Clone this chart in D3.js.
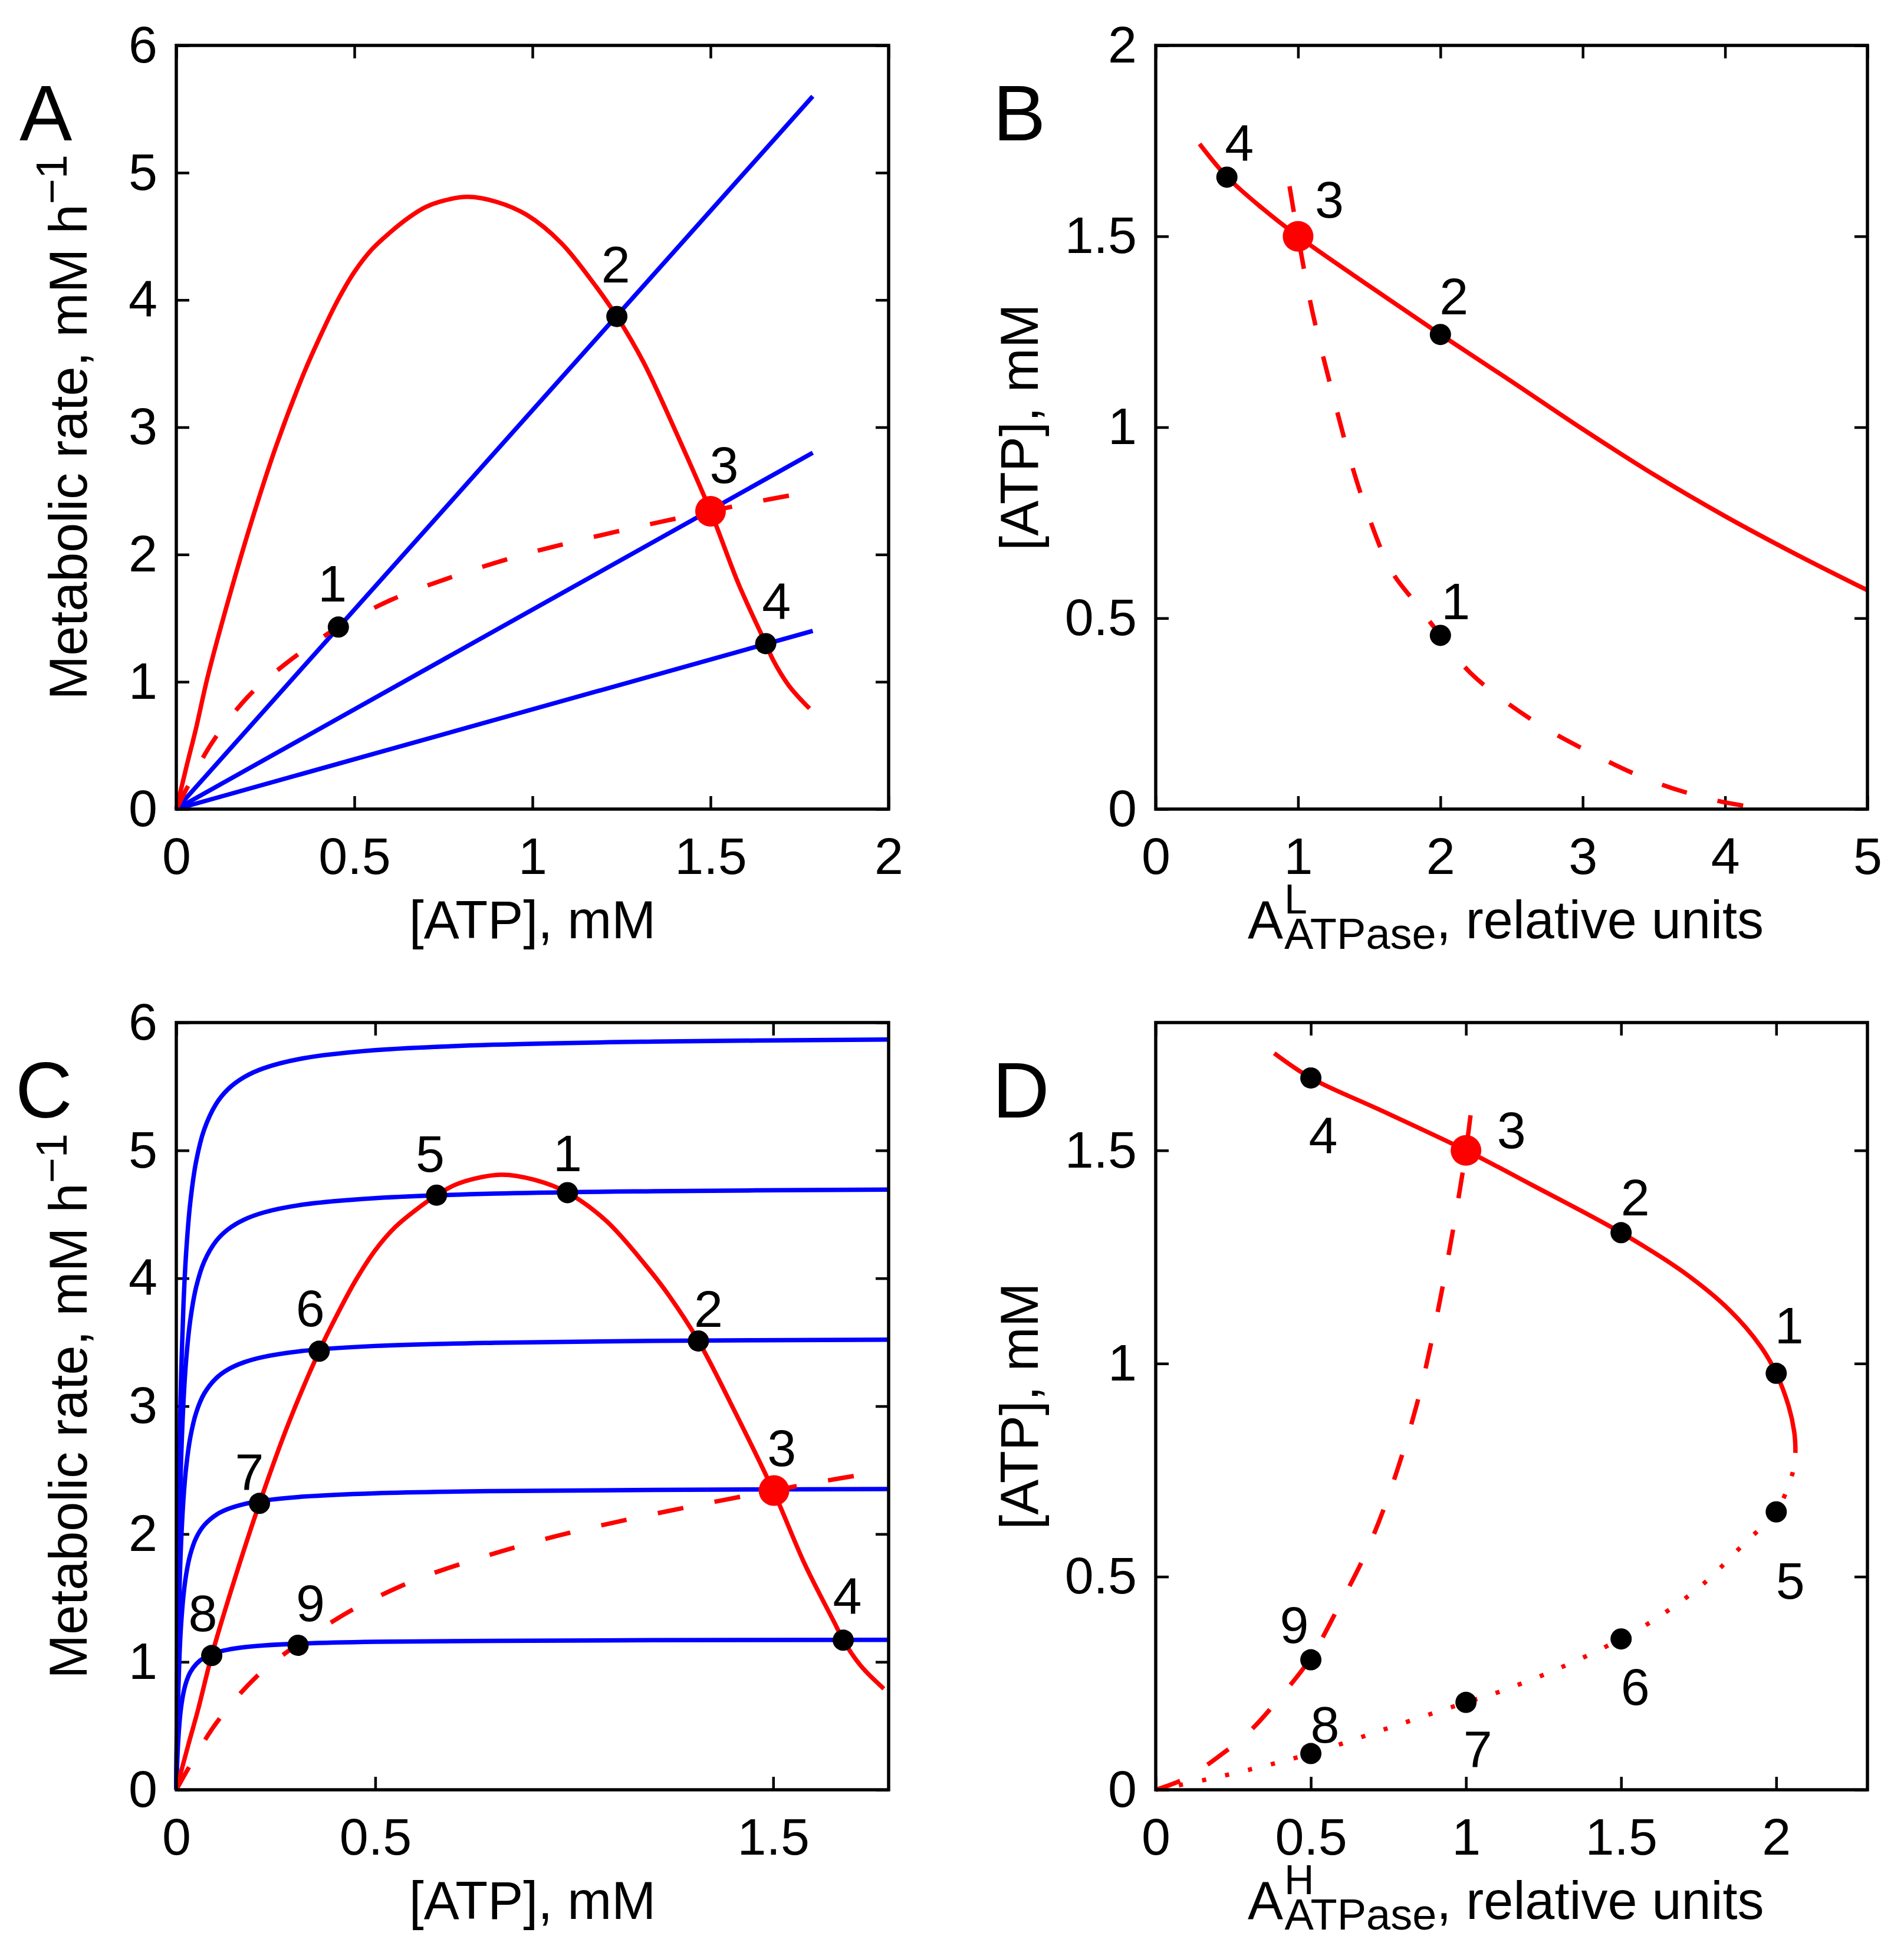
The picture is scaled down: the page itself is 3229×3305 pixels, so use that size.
<!DOCTYPE html>
<html>
<head>
<meta charset="utf-8">
<script src="https://cdn.jsdelivr.net/npm/d3@7"></script>
<style>
  body { margin: 0; background: #fff; }
  svg { display: block; }
</style>
</head>
<body>
<div id="chart"></div>
<script>
// ---- data ----

// A / C : ATP production rate (solid red) vs [ATP]
var prodAtp  = [0, 0.03, 0.055, 0.089, 0.15, 0.209, 0.28, 0.359, 0.4, 0.45, 0.5, 0.55, 0.6, 0.654, 0.7, 0.75, 0.818, 0.9, 0.983, 1.08, 1.18, 1.237, 1.312, 1.4, 1.5, 1.58, 1.655, 1.676, 1.72, 1.778];
var prodRate = [0, 0.35, 0.63, 1.05, 1.68, 2.24, 2.85, 3.43, 3.69, 3.98, 4.22, 4.40, 4.53, 4.65, 4.73, 4.78, 4.81, 4.77, 4.67, 4.45, 4.10, 3.87, 3.51, 2.98, 2.34, 1.76, 1.30, 1.17, 0.97, 0.79];

// A / C : dashed red curve
var dashAtp  = [0, 0.04, 0.1, 0.2, 0.306, 0.4, 0.456, 0.6, 0.78, 0.95, 1.1, 1.3, 1.5, 1.62, 1.735];
var dashRate = [0, 0.22, 0.52, 0.88, 1.14, 1.33, 1.43, 1.64, 1.83, 1.98, 2.09, 2.22, 2.34, 2.41, 2.47];

// A : blue consumption lines (end points, start at origin)
var lineEndAtp  = [1.787, 1.787, 1.787];
var lineEndRate = [5.6, 2.80, 1.40];

// A : points
var ptsAAtp   = [0.455, 1.237, 1.5, 1.655];
var ptsARate  = [1.43, 3.87, 2.34, 1.30];
var ptsALabel = ['1', '2', '3', '4'];
var ptsARed   = [false, false, true, false];

// C : blue saturating consumption curves
var cAtp   = [0, 0.004, 0.008, 0.012, 0.018, 0.025, 0.035, 0.05, 0.07, 0.1, 0.13, 0.17, 0.22, 0.32, 0.5, 0.8, 1.2, 1.79];
var cRate1 = [0, 1.686, 2.622, 3.218, 3.793, 4.214, 4.589, 4.917, 5.163, 5.364, 5.479, 5.572, 5.643, 5.721, 5.784, 5.827, 5.851, 5.867];
var cRate2 = [0, 1.349, 2.098, 2.575, 3.034, 3.371, 3.671, 3.933, 4.130, 4.291, 4.383, 4.458, 4.515, 4.577, 4.627, 4.662, 4.681, 4.694];
var cRate3 = [0, 1.011, 1.573, 1.931, 2.276, 2.529, 2.753, 2.950, 3.098, 3.218, 3.287, 3.343, 3.386, 3.433, 3.471, 3.496, 3.511, 3.520];
var cRate4 = [0, 0.676, 1.051, 1.290, 1.520, 1.689, 1.839, 1.971, 2.069, 2.150, 2.196, 2.234, 2.262, 2.293, 2.319, 2.336, 2.345, 2.352];
var cRate5 = [0, 0.337, 0.524, 0.644, 0.759, 0.843, 0.918, 0.983, 1.033, 1.073, 1.096, 1.115, 1.129, 1.144, 1.157, 1.165, 1.170, 1.173];

// C : points
var ptsCAtp   = [0.983, 1.312, 1.502, 1.676, 0.654, 0.359, 0.209, 0.089, 0.306];
var ptsCRate  = [4.67, 3.51, 2.34, 1.17, 4.65, 3.43, 2.24, 1.05, 1.13];
var ptsCLabel = ['1', '2', '3', '4', '5', '6', '7', '8', '9'];
var ptsCRed   = [false, false, true, false, false, false, false, false, false];

// B : ATP vs A^L_ATPase
var bSolidAct = [0.308, 0.5, 0.75, 1.0, 1.5, 2.0, 2.5, 3.0, 3.5, 4.0, 4.5, 5.0];
var bSolidAtp = [1.742, 1.656, 1.573, 1.5, 1.37, 1.243, 1.12, 0.995, 0.876, 0.767, 0.667, 0.573];
var bDashAct  = [0.94, 1.0, 1.098, 1.226, 1.355, 1.483, 1.654, 1.825, 2.0, 2.21, 2.637, 3.064, 3.49, 3.92, 4.28];
var bDashAtp  = [1.631, 1.5, 1.307, 1.112, 0.93, 0.78, 0.625, 0.54, 0.455, 0.357, 0.235, 0.146, 0.073, 0.024, 0];
var ptsBAct   = [0.5, 1, 2, 2];
var ptsBAtp   = [1.655, 1.5, 1.243, 0.455];
var ptsBLabel = ['4', '3', '2', '1'];
var ptsBRed   = [false, true, false, false];

// D : ATP vs A^H_ATPase
var dSolidAct = [0.382, 0.5, 0.72, 1.0, 1.21, 1.5, 1.7, 1.85, 1.95, 2.0, 2.04, 2.058, 2.062];
var dSolidAtp = [1.728, 1.67, 1.596, 1.5, 1.42, 1.307, 1.215, 1.125, 1.04, 0.977, 0.9, 0.84, 0.80];
var dDotAct   = [2.062, 2.058, 2.04, 2.0, 1.9, 1.76, 1.62, 1.5, 1.3, 1.1, 1.0, 0.75, 0.5, 0.3, 0.15, 0];
var dDotAtp   = [0.80, 0.76, 0.715, 0.652, 0.58, 0.48, 0.405, 0.354, 0.285, 0.228, 0.205, 0.145, 0.085, 0.047, 0.022, 0];
var dDashAct  = [0, 0.1, 0.21, 0.3, 0.41, 0.5, 0.59, 0.68, 0.76, 0.84, 0.9, 0.955, 1.0, 1.024];
var dDashAtp  = [0, 0.028, 0.082, 0.135, 0.225, 0.31, 0.43, 0.56, 0.71, 0.90, 1.09, 1.3, 1.5, 1.64];
var ptsDAct   = [0.5, 1, 1.5, 2, 2, 1.5, 1, 0.5, 0.5];
var ptsDAtp   = [1.67, 1.5, 1.307, 0.977, 0.652, 0.354, 0.205, 0.085, 0.305];
var ptsDLabel = ['4', '3', '2', '1', '5', '6', '7', '8', '9'];
var ptsDRed   = [false, true, false, false, false, false, false, false, false];

// tick values
var ticksAx = [0, 0.5, 1, 1.5, 2];
var ticksRate = [0, 1, 2, 3, 4, 5, 6];
var ticksBx = [0, 1, 2, 3, 4, 5];
var ticksBy = [0, 0.5, 1, 1.5, 2];
var ticksCx = [0, 0.5, 1.5];
var ticksDx = [0, 0.5, 1, 1.5, 2];
var ticksDy = [0, 0.5, 1, 1.5];

// ---- layout ----
var W = 3229, H = 3305;
var FONT = "'Liberation Sans', Arial, Helvetica, sans-serif";
var TICK = 22;
var RED = '#ff0000', BLUE = '#0000ff';

// label offsets (px) from each point to the centre of its number
var offA = [[-10, -74], [-2, -89], [23, -79], [18, -72]];
var offB = [[21, -58], [53, -63], [23, -65], [26, -58]];
var offC = [[0, -67], [17, -55], [13, -73], [7, -75], [-11, -71], [-15, -73], [-17, -53], [-15, -72], [21, -72]];
var offD = [[21, 97], [77, -35], [24, -60], [22, -82], [24, 116], [24, 81], [20, 79], [24, -50], [-28, -60]];

var svg = d3.select('#chart').append('svg')
    .attr('width', W)
    .attr('height', H)
    .attr('viewBox', '0 0 ' + W + ' ' + H);

svg.append('rect').attr('width', W).attr('height', H).attr('fill', '#fff');

function panel(p) {
    var g = svg.append('g');
    var x = d3.scaleLinear().domain(p.xDomain).range([p.left, p.right]);
    var y = d3.scaleLinear().domain(p.yDomain).range([p.bottom, p.top]);

    function styleAxis(a) {
        a.select('.domain').remove();
        a.attr('font-family', FONT).attr('font-size', 88);
        a.selectAll('.tick line').attr('stroke', '#000').attr('stroke-width', 4.5);
        a.selectAll('.tick text').attr('fill', '#000');
    }

    var fmt = d3.format('');
    g.append('g').attr('transform', 'translate(0,' + p.bottom + ')')
        .call(d3.axisBottom(x).tickValues(p.xTicks).tickSize(-TICK).tickPadding(48).tickFormat(fmt))
        .call(styleAxis);
    g.append('g').attr('transform', 'translate(' + p.left + ',0)')
        .call(d3.axisLeft(y).tickValues(p.yTicks).tickSize(-TICK).tickPadding(32).tickFormat(fmt))
        .call(styleAxis);
    g.append('g').attr('transform', 'translate(0,' + p.top + ')')
        .call(d3.axisTop(x).tickValues(p.xTicks).tickSize(-TICK).tickFormat(function () { return ''; }))
        .call(styleAxis);
    g.append('g').attr('transform', 'translate(' + p.right + ',0)')
        .call(d3.axisRight(y).tickValues(p.yTicks).tickSize(-TICK).tickFormat(function () { return ''; }))
        .call(styleAxis);

    // curves
    var line = d3.line()
        .x(function (d) { return x(d[0]); })
        .y(function (d) { return y(d[1]); })
        .curve(d3.curveCatmullRom.alpha(0.5));

    p.curves.forEach(function (c) {
        var path = g.append('path')
            .datum(d3.zip(c.xs, c.ys))
            .attr('d', line)
            .attr('fill', 'none')
            .attr('stroke', c.color)
            .attr('stroke-width', 7.5)
            .attr('stroke-linejoin', 'round');
        if (c.dash === 'dash') path.attr('stroke-dasharray', '44,54');
        if (c.dash === 'dot') path.attr('stroke-dasharray', '7,33');
    });

    // box
    g.append('rect')
        .attr('x', p.left).attr('y', p.top)
        .attr('width', p.right - p.left).attr('height', p.bottom - p.top)
        .attr('fill', 'none').attr('stroke', '#000').attr('stroke-width', 5.5);

    // points and numbers
    var pts = p.points;
    pts.xs.forEach(function (xv, i) {
        var cx = x(xv), cy = y(pts.ys[i]);
        g.append('circle')
            .attr('cx', cx).attr('cy', cy)
            .attr('r', pts.red[i] ? 26 : 18)
            .attr('fill', pts.red[i] ? RED : '#000');
        g.append('text')
            .attr('x', cx + pts.off[i][0])
            .attr('y', cy + pts.off[i][1] + 31)
            .attr('text-anchor', 'middle')
            .attr('font-family', FONT)
            .attr('font-size', 88)
            .text(pts.labels[i]);
    });

    // panel letter
    g.append('text')
        .attr('x', p.left - 266 - p.letterShift)
        .attr('y', p.top + 161)
        .attr('font-family', FONT)
        .attr('font-size', 134)
        .text(p.letter);

    // y label
    var yl = g.append('text')
        .attr('transform', 'translate(' + p.yLabelX + ',' + ((p.top + p.bottom) / 2) + ') rotate(-90)')
        .attr('text-anchor', 'middle')
        .attr('font-family', FONT)
        .attr('font-size', 90);
    if (p.yLabel === 'rate') {
        yl.append('tspan').text('Metabolic rate, mM h');
        yl.append('tspan').attr('dy', -34).attr('font-size', 74).text('\u22121');
    } else {
        yl.text('[ATP], mM');
    }

    // x label
    var xlY = p.bottom + 219;
    if (p.xLabel === 'atp') {
        g.append('text')
            .attr('x', (p.left + p.right) / 2).attr('y', xlY)
            .attr('text-anchor', 'middle')
            .attr('font-family', FONT).attr('font-size', 90)
            .text('[ATP], mM');
    } else {
        // A with superscript and subscript starting at the same x
        var sup = p.xLabel;
        var supW = sup === 'L' ? 39 : 50;
        var xl = g.append('text')
            .attr('x', p.left + 156).attr('y', xlY)
            .attr('font-family', FONT).attr('font-size', 90);
        xl.append('tspan').text('A');
        xl.append('tspan').attr('dx', 2).attr('dy', -42).attr('font-size', 70).text(sup);
        xl.append('tspan').attr('dx', -supW).attr('dy', 60).attr('font-size', 74).text('ATPase');
        xl.append('tspan').attr('dy', -18).text(', relative units');
    }
}

var topRow = { top: 77, bottom: 1372 };
var botRow = { top: 1734, bottom: 3035 };
var leftCol = { left: 299, right: 1507 };
var rightCol = { left: 1960, right: 3167 };

var blueA = lineEndAtp.map(function (xe, i) {
    return { xs: [0, xe], ys: [0, lineEndRate[i]], color: BLUE };
});

panel({
    letter: 'A', letterShift: 0,
    left: leftCol.left, right: leftCol.right, top: topRow.top, bottom: topRow.bottom,
    xDomain: [0, 2], yDomain: [0, 6], xTicks: ticksAx, yTicks: ticksRate,
    yLabel: 'rate', yLabelX: 147, xLabel: 'atp',
    curves: blueA.concat([
        { xs: dashAtp, ys: dashRate, color: RED, dash: 'dash' },
        { xs: prodAtp, ys: prodRate, color: RED }
    ]),
    points: { xs: ptsAAtp, ys: ptsARate, labels: ptsALabel, red: ptsARed, off: offA }
});

panel({
    letter: 'B', letterShift: 10,
    left: rightCol.left, right: rightCol.right, top: topRow.top, bottom: topRow.bottom,
    xDomain: [0, 5], yDomain: [0, 2], xTicks: ticksBx, yTicks: ticksBy,
    yLabel: 'atp', yLabelX: 1760, xLabel: 'L',
    curves: [
        { xs: bDashAct, ys: bDashAtp, color: RED, dash: 'dash' },
        { xs: bSolidAct, ys: bSolidAtp, color: RED }
    ],
    points: { xs: ptsBAct, ys: ptsBAtp, labels: ptsBLabel, red: ptsBRed, off: offB }
});

panel({
    letter: 'C', letterShift: 7,
    left: leftCol.left, right: leftCol.right, top: botRow.top, bottom: botRow.bottom,
    xDomain: [0, 1.79], yDomain: [0, 6], xTicks: ticksCx, yTicks: ticksRate,
    yLabel: 'rate', yLabelX: 147, xLabel: 'atp',
    curves: [cRate1, cRate2, cRate3, cRate4, cRate5].map(function (r) {
        return { xs: cAtp, ys: r, color: BLUE };
    }).concat([
        { xs: dashAtp, ys: dashRate, color: RED, dash: 'dash' },
        { xs: prodAtp, ys: prodRate, color: RED }
    ]),
    points: { xs: ptsCAtp, ys: ptsCRate, labels: ptsCLabel, red: ptsCRed, off: offC }
});

panel({
    letter: 'D', letterShift: 11,
    left: rightCol.left, right: rightCol.right, top: botRow.top, bottom: botRow.bottom,
    xDomain: [0, 2.294], yDomain: [0, 1.8], xTicks: ticksDx, yTicks: ticksDy,
    yLabel: 'atp', yLabelX: 1760, xLabel: 'H',
    curves: [
        { xs: dDashAct, ys: dDashAtp, color: RED, dash: 'dash' },
        { xs: dDotAct, ys: dDotAtp, color: RED, dash: 'dot' },
        { xs: dSolidAct, ys: dSolidAtp, color: RED }
    ],
    points: { xs: ptsDAct, ys: ptsDAtp, labels: ptsDLabel, red: ptsDRed, off: offD }
});
</script>
</body>
</html>
